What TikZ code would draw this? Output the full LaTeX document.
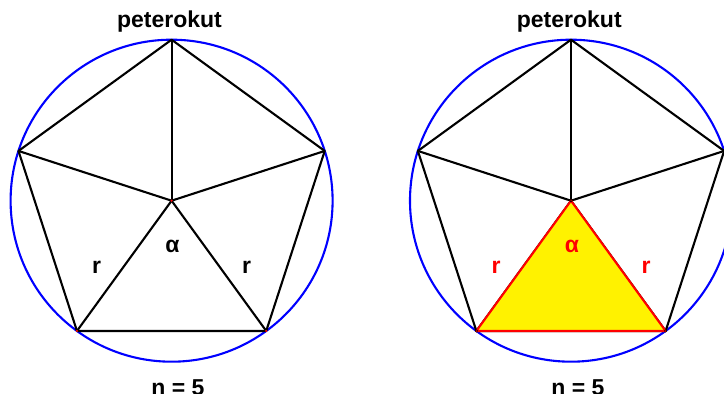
\documentclass[tikz,border=0pt]{standalone}
\usepackage{fontspec}
\setmainfont{Liberation Sans}
\begin{document}
\begin{tikzpicture}[x=1pt,y=1pt,line width=2.1pt,line join=round,
  circ/.style={draw=blue,line width=2.1pt},
  edge/.style={draw=black,line width=2.1pt},
  tri/.style={draw=red,fill=yellow,line width=2.1pt},
  lbl/.style={font=\bfseries\fontsize{23}{27}\selectfont,anchor=base,inner sep=0pt},
  dotL/.style={fill=red,circle,inner sep=0pt,minimum size=2.4pt},
  dotR/.style={fill=red,draw=black,line width=0.5pt,circle,inner sep=0pt,minimum size=2.6pt}]
\useasboundingbox (0,0) rectangle (724,394);
\clip (0,0) rectangle (724,394);
% left panel
\coordinate (LC) at (171.6,193.3);
\foreach \i in {0,...,4} \coordinate (L\i) at ([shift={(LC)}]{90+72*\i}:161);
\draw[circ] (LC) circle (161);
\draw[edge] (L0)--(L1)--(L2)--(L3)--(L4)--cycle;
\foreach \i in {0,...,4} \draw[edge] (LC)--(L\i);
\foreach \i in {2,3} \node[dotL] at (L\i) {};
\node[dotL] at (LC) {};
\node[lbl] (lt) at (169.5,366) {peterokut};
\node[lbl] (lb) at (178,-1.5) {n = 5};
\node[lbl] (lr1) at (96.7,120) {r};
\node[lbl] (la) at (172.5,141) {α};
\node[lbl] (lr2) at (246.5,120) {r};
% right panel
\coordinate (RC) at (571,193.3);
\foreach \i in {0,...,4} \coordinate (R\i) at ([shift={(RC)}]{90+72*\i}:161);
\draw[circ] (RC) circle (161);
\draw[edge] (R0)--(R1)--(R2)--(R3)--(R4)--cycle;
\foreach \i in {0,...,4} \draw[edge] (RC)--(R\i);
\draw[tri] (RC)--(R2)--(R3)--cycle;
\foreach \i in {2,3} \node[dotR] at (R\i) {};
\node[dotR] at (RC) {};
\node[lbl] (rt) at (569.3,366) {peterokut};
\node[lbl] (rb) at (578,-1.5) {n = 5};
\node[lbl,text=red] (rr1) at (496,120) {r};
\node[lbl,text=red] (ra) at (572,141) {α};
\node[lbl,text=red] (rr2) at (646,120) {r};
\end{tikzpicture}
\end{document}
